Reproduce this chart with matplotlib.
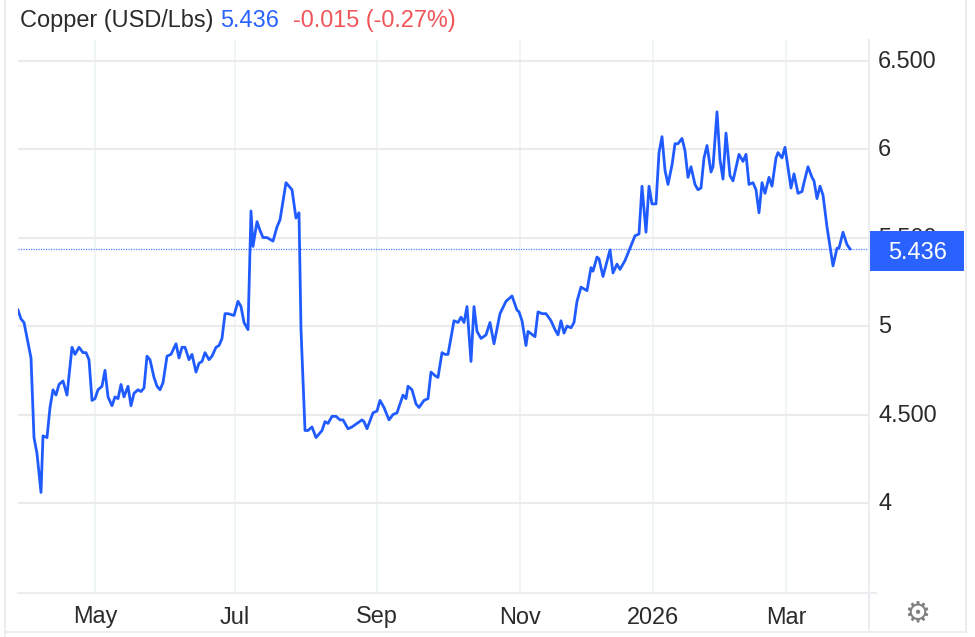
import matplotlib
matplotlib.use("Agg")
import matplotlib.pyplot as plt
from matplotlib.lines import Line2D
from matplotlib.patches import Rectangle
from matplotlib.transforms import ScaledTranslation

# position along the chart's ordinal time axis (trading-calendar scale)
time_pos = [18,21,24,31,34,37,41,43,47,50,53,56,59,63,67,72,75,79,83,86,89,92,95,98,102,105,108,112,115,118,
            121,124,128,131,134,138,141,144,147,150,154,157,160,163,167,171,176,179,182,185,189,192,196,199,202,205,209,212,216,219,
            222,225,228,234,238,241,244,248,251,253,257,260,263,267,273,277,280,286,292,296,299,300,301,303,305,308,312,316,322,325,
            328,332,336,340,343,348,352,357,362,364,367,373,377,380,384,389,393,397,403,406,408,412,416,419,424,428,431,435,438,442,
            445,448,454,458,461,464,467,471,474,477,481,486,490,494,500,506,512,517,519,522,526,528,535,538,542,546,551,555,558,561,
            564,567,571,574,577,581,587,591,593,597,599,603,610,613,617,620,625,630,635,639,642,646,649,652,656,659,662,665,668,672,
            675,678,682,685,688,691,695,698,701,704,707,711,713,717,720,723,726,730,733,739,743,746,749,753,756,759,762,765,769,772,
            776,778,782,785,791,794,798,802,804,808,812,814,817,820,823,827,830,833,837,839,843,847,850]
copper = [5.09,5.04,5.02,4.82,4.37,4.28,4.06,4.38,4.37,4.54,4.64,4.61,4.67,4.69,4.61,4.88,4.84,4.88,4.85,4.85,4.81,4.58,4.59,4.64,4.66,4.75,4.60,4.55,4.60,4.59,
          4.67,4.60,4.66,4.55,4.62,4.64,4.63,4.65,4.83,4.81,4.71,4.66,4.64,4.68,4.83,4.84,4.90,4.82,4.88,4.88,4.81,4.84,4.74,4.79,4.80,4.85,4.81,4.83,4.88,4.89,
          4.93,5.07,5.07,5.06,5.14,5.11,5.02,4.98,5.65,5.45,5.59,5.54,5.50,5.50,5.48,5.56,5.60,5.81,5.77,5.61,5.64,5.32,4.98,4.69,4.41,4.41,4.43,4.37,4.41,4.46,
          4.45,4.49,4.49,4.47,4.47,4.42,4.43,4.45,4.47,4.46,4.42,4.51,4.52,4.58,4.54,4.47,4.50,4.51,4.61,4.59,4.66,4.64,4.56,4.54,4.58,4.59,4.74,4.72,4.71,4.85,
          4.84,4.84,5.03,5.02,5.05,5.02,5.11,4.80,5.11,4.97,4.93,4.95,5.02,4.90,5.07,5.14,5.17,5.09,5.08,5.03,4.89,4.97,4.94,5.08,5.07,5.07,5.03,4.98,4.95,5.03,
          4.96,5.00,4.99,5.02,5.14,5.22,5.20,5.33,5.31,5.39,5.38,5.28,5.43,5.30,5.35,5.32,5.37,5.44,5.51,5.52,5.79,5.53,5.79,5.69,5.69,5.98,6.07,5.88,5.80,5.91,
          6.03,6.03,6.06,5.99,5.84,5.90,5.80,5.77,5.78,5.95,6.02,5.87,5.90,6.21,5.94,5.83,6.09,5.85,5.82,5.97,5.93,5.97,5.80,5.81,5.77,5.64,5.81,5.75,5.84,5.79,
          5.95,5.98,5.95,6.01,5.78,5.86,5.75,5.76,5.81,5.90,5.84,5.82,5.72,5.79,5.74,5.56,5.45,5.34,5.44,5.44,5.53,5.46,5.436]
month_pos = [95,235,377,520,653,786]
month_labels = ["May","Jul","Sep","Nov","2026","Mar"]
y_ticks = [4,4.5,5,5.5,6,6.5]
y_labels = ["4","4.500","5","5.500","6","6.500"]
last_value = 5.436
title = "Copper (USD/Lbs)"
last_text = "5.436"
change_text = "-0.015 (-0.27%)"

BLUE = "#1f5bff"
W, H = 975, 637
FS = 16.9
plt.rcParams["font.family"] = ["Liberation Sans", "DejaVu Sans"]
fig = plt.figure(figsize=(W/100, H/100), dpi=100, facecolor="white")
ax = fig.add_axes([18/W, 1-593/H, (869-18)/W, (593-40)/H])
ax.set_xlim(18, 869)
ax.set_ylim(3.492, 6.616)
for s in ax.spines.values():
    s.set_visible(False)
ax.set_axisbelow(True)
ax.set_xticks(month_pos, month_labels)
ax.set_yticks(y_ticks, y_labels)
ax.yaxis.tick_right()
ax.tick_params(axis="both", length=0, labelsize=FS, labelcolor="#2b2b2b")
ax.tick_params(axis="x", pad=9)
ax.tick_params(axis="y", pad=6.5)
shift = ScaledTranslation(0, 1.3/72, fig.dpi_scale_trans)
for lab in ax.get_yticklabels():
    lab.set_transform(lab.get_transform() + shift)
ax.grid(axis="y", color="#ebebeb", lw=1.5)
ax.grid(axis="x", color="#eef3f7", lw=1.3)
ax.axhline(last_value, color=BLUE, lw=0.9, ls=(0, (1, 1)), alpha=0.75)
ax.plot(time_pos, copper, color=BLUE, lw=2.0, solid_joinstyle="round")

trans = ax.get_yaxis_transform()
ax.add_patch(Rectangle((1.001, last_value-0.123), 0.111, 0.222, transform=trans,
                       facecolor="#2962ff", edgecolor="none", clip_on=False, zorder=5))
ax.text(1.0565, last_value-0.018, last_text, transform=trans, color="white", fontsize=FS,
        ha="center", va="center", zorder=6, fontweight="medium")

def px(x, y):
    return x/W, 1-y/H
fig.text(*px(20, 27), title, color="#2b2b2b", fontsize=FS, va="baseline")
fig.text(*px(220, 27), last_text, color="#2962ff", fontsize=FS, va="baseline")
fig.text(*px(293, 27), change_text, color="#f0555a", fontsize=FS, va="baseline")
fig.text(*px(917, 613), "\u2699", color="#808080", fontsize=21, ha="center", va="center",
         family="DejaVu Sans")

frame = "#ecedf0"
for xs, ys in [((5, 5), (0, 637)), ((869, 869), (40, 632)), ((966, 966), (0, 632)),
               ((5, 966), (632, 632)), ((18, 876), (593, 593))]:
    fig.add_artist(Line2D([x/W for x in xs], [1-y/H for y in ys], color=frame, lw=1.5))

fig.savefig("out.png", dpi=100)
